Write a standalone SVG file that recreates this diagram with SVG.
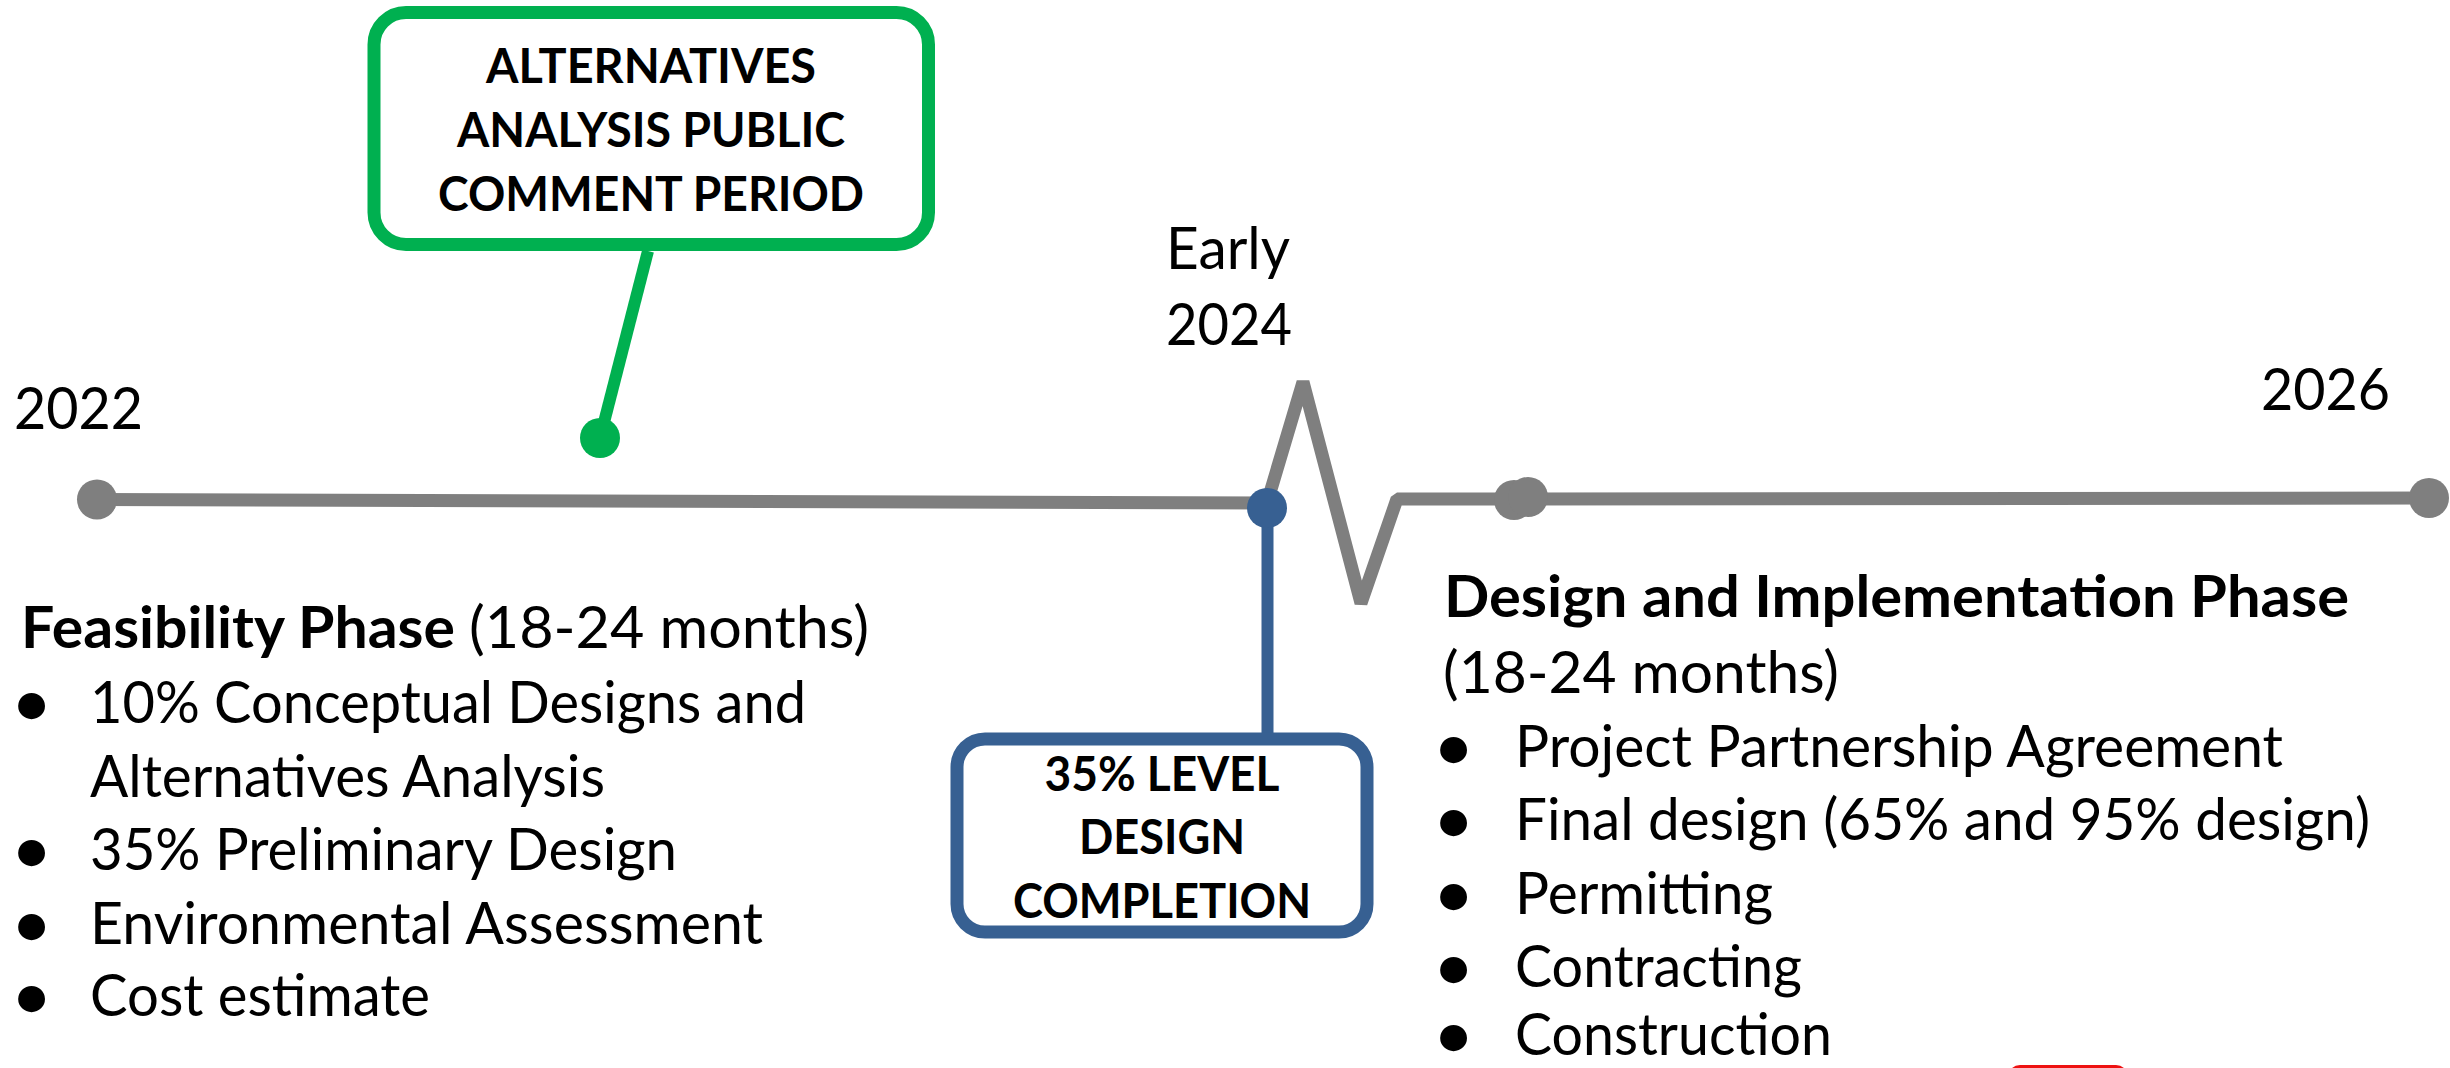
<svg xmlns="http://www.w3.org/2000/svg" width="2450" height="1068" viewBox="0 0 2450 1068">
  <style>
    text { font-family: Lato, "Open Sans", "Liberation Sans", sans-serif; fill: #000; }
    .year { font-size: 58px; }
    .callout { font-size: 47px; font-weight: 700; text-anchor: middle; }
    .head { font-size: 58px; font-weight: 700; }
    .body { font-size: 58px; }
    .bullet { font-size: 58px; font-weight: 900; text-anchor: middle; }
    .tl { fill: none; stroke: #7f7f7f; stroke-width: 13; stroke-linejoin: bevel; }
    .dot { fill: #7f7f7f; }
    .green-box { fill: #fff; stroke: #00b050; stroke-width: 13; }
    .blue-box { fill: #fff; stroke: #376092; stroke-width: 13; }
  </style>

  <!-- timeline axis and callout leaders -->
  <g id="connectors">
    <path class="tl" d="M97,499.5 L1267,503"/>
    <path class="tl" d="M1267,503 L1303,382 L1361,603 L1397,499 L2429,498"/>
    <line x1="648" y1="251" x2="600" y2="438" stroke="#00b050" stroke-width="12"/>
    <line x1="1267.5" y1="508" x2="1267.5" y2="735" stroke="#376092" stroke-width="12"/>
  </g>

  <!-- start of timeline -->
  <g id="node-2022">
    <circle class="dot" cx="97" cy="499.5" r="20"/>
    <text class="year" x="14" y="429" textLength="129" lengthAdjust="spacingAndGlyphs">2022</text>
  </g>

  <!-- break marker label -->
  <g id="node-early-2024">
    <text class="year" x="1166" y="269" textLength="124" lengthAdjust="spacingAndGlyphs">Early</text>
    <text class="year" x="1166" y="345" textLength="126" lengthAdjust="spacingAndGlyphs">2024</text>
  </g>

  <!-- start of design phase -->
  <g id="node-design-start">
    <circle class="dot" cx="1514" cy="500" r="20"/>
    <circle class="dot" cx="1528" cy="497" r="20"/>
  </g>

  <!-- end of timeline -->
  <g id="node-2026">
    <circle class="dot" cx="2429" cy="498" r="20"/>
    <text class="year" x="2261" y="410" textLength="129" lengthAdjust="spacingAndGlyphs">2026</text>
  </g>

  <!-- public comment callout -->
  <g id="node-public-comment">
    <rect class="green-box" x="374" y="12.5" width="554.5" height="232" rx="32"/>
    <text class="callout" x="651" y="83" textLength="330" lengthAdjust="spacingAndGlyphs">ALTERNATIVES</text>
    <text class="callout" x="651" y="147" textLength="388" lengthAdjust="spacingAndGlyphs">ANALYSIS PUBLIC</text>
    <text class="callout" x="651" y="211" textLength="426" lengthAdjust="spacingAndGlyphs">COMMENT PERIOD</text>
    <circle cx="600" cy="438" r="20" fill="#00b050"/>
  </g>

  <!-- 35% design milestone callout -->
  <g id="node-35-design">
    <circle cx="1267" cy="508" r="20" fill="#376092"/>
    <rect class="blue-box" x="957" y="739" width="410" height="193" rx="28"/>
    <text class="callout" x="1162" y="791" textLength="235" lengthAdjust="spacingAndGlyphs">35% LEVEL</text>
    <text class="callout" x="1162" y="854" textLength="166" lengthAdjust="spacingAndGlyphs">DESIGN</text>
    <text class="callout" x="1162" y="918" textLength="298" lengthAdjust="spacingAndGlyphs">COMPLETION</text>
  </g>

  <!-- feasibility phase description -->
  <g id="feasibility-phase">
    <text class="head" x="21" y="648" textLength="434" lengthAdjust="spacingAndGlyphs">Feasibility Phase</text>
    <text class="body" x="469" y="648" textLength="400" lengthAdjust="spacingAndGlyphs">(18-24 months)</text>
    <text class="bullet" x="31.5" y="723">•</text>
    <text class="body" x="90" y="723" textLength="716" lengthAdjust="spacingAndGlyphs">10% Conceptual Designs and</text>
    <text class="body" x="90" y="796.5" textLength="515" lengthAdjust="spacingAndGlyphs">Alternatives Analysis</text>
    <text class="bullet" x="31.5" y="870">•</text>
    <text class="body" x="90" y="870" textLength="587" lengthAdjust="spacingAndGlyphs">35% Preliminary Design</text>
    <text class="bullet" x="31.5" y="943.5">•</text>
    <text class="body" x="90" y="943.5" textLength="673" lengthAdjust="spacingAndGlyphs">Environmental Assessment</text>
    <text class="bullet" x="31.5" y="1016">•</text>
    <text class="body" x="90" y="1016" textLength="340" lengthAdjust="spacingAndGlyphs">Cost estimate</text>
  </g>

  <!-- design and implementation phase description -->
  <g id="design-phase">
    <text class="head" x="1444" y="616.5" textLength="905" lengthAdjust="spacingAndGlyphs">Design and Implementation Phase</text>
    <text class="body" x="1443" y="692.5" textLength="396" lengthAdjust="spacingAndGlyphs">(18-24 months)</text>
    <text class="bullet" x="1453.5" y="766.5">•</text>
    <text class="body" x="1515" y="766.5" textLength="768" lengthAdjust="spacingAndGlyphs">Project Partnership Agreement</text>
    <text class="bullet" x="1453.5" y="840">•</text>
    <text class="body" x="1515" y="840" textLength="855" lengthAdjust="spacingAndGlyphs">Final design (65% and 95% design)</text>
    <text class="bullet" x="1453.5" y="913.5">•</text>
    <text class="body" x="1515" y="913.5" textLength="258" lengthAdjust="spacingAndGlyphs">Permitting</text>
    <text class="bullet" x="1453.5" y="987">•</text>
    <text class="body" x="1515" y="987" textLength="287" lengthAdjust="spacingAndGlyphs">Contracting</text>
    <text class="bullet" x="1453.5" y="1055">•</text>
    <text class="body" x="1515" y="1055" textLength="317" lengthAdjust="spacingAndGlyphs">Construction</text>
  </g>

  <!-- red tab at lower edge -->
  <rect id="red-tab" x="2008" y="1065" width="120" height="30" rx="12" fill="#ee1111"/>
</svg>
